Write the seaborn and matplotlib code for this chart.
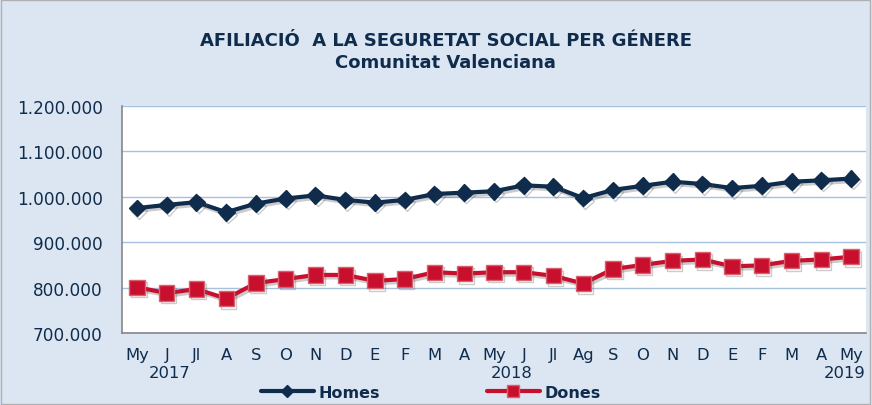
import numpy as np
import pandas as pd
import matplotlib.pyplot as plt
import matplotlib.patheffects as pe
from matplotlib.ticker import FuncFormatter, FixedLocator
import seaborn as sns

months = ['My', 'J', 'Jl', 'A', 'S', 'O', 'N', 'D', 'E', 'F', 'M', 'A', 'My',
          'J', 'Jl', 'Ag', 'S', 'O', 'N', 'D', 'E', 'F', 'M', 'A', 'My']
homes = [975000, 982000, 988000, 966000, 985000, 996000, 1003000, 993000, 987000,
         993000, 1006000, 1009000, 1012000, 1025000, 1022000, 997000, 1015000,
         1024000, 1033000, 1028000, 1019000, 1024000, 1033000, 1036000, 1040000]
dones = [801000, 788000, 797000, 776000, 810000, 819000, 828000, 828000, 815000,
         819000, 834000, 831000, 834000, 834000, 826000, 809000, 841000,
         850000, 859000, 862000, 847000, 849000, 859000, 862000, 868000]
years = ['2017', '2018', '2019']

df = pd.DataFrame({'pos': range(len(months)), 'Homes': homes, 'Dones': dones})
long = df.melt(id_vars='pos', var_name='serie', value_name='afiliats')

sns.set_style('white')
plt.rcParams['font.family'] = ['DejaVu Sans']

bg = '#dce6f2'
navy = '#0f2c4c'
red = '#c8102e'
fs = 11.8

fig = plt.figure(figsize=(8.72, 4.06), dpi=100, facecolor=bg)
ax = fig.add_axes([0.140, 0.177, 0.853, 0.560])

shadow = [pe.SimpleLineShadow(offset=(1.5, -1.8), alpha=0.3, shadow_color='#555555'), pe.Normal()]
sns.lineplot(data=long, x='pos', y='afiliats', hue='serie', style='serie',
             markers={'Homes': 'D', 'Dones': 's'}, dashes=False,
             palette={'Homes': navy, 'Dones': red}, linewidth=3, ax=ax,
             legend=False)
for line, ms, ec in zip(ax.lines, [8.5, 11], [navy, '#d9606f']):
    line.set_markersize(ms)
    line.set_markeredgecolor(ec)
    line.set_markeredgewidth(1)
    line.set_path_effects(shadow)

ax.set_ylim(700000, 1200000)
ax.set_xlim(-0.5, len(months) - 0.5)
ax.set_yticks(np.arange(700000, 1200001, 100000))
ax.yaxis.set_major_formatter(FuncFormatter(lambda v, p: f'{v:,.0f}'.replace(',', '.')))
ax.grid(axis='y', color='#a7c0de', linewidth=1)
ax.set_axisbelow(True)

ax.xaxis.set_major_locator(FixedLocator(np.arange(-0.5, len(months), 1)))
ax.xaxis.set_minor_locator(FixedLocator(np.arange(len(months))))
ax.set_xticklabels([])
ax.set_xticklabels(months, minor=True)
ax.tick_params(axis='x', which='minor', length=0, pad=10, labelsize=fs, labelcolor=navy)
ax.tick_params(axis='x', which='major', length=5, color='#868686', direction='out')
ax.tick_params(axis='y', length=5, color='#868686', direction='out', labelsize=fs + 0.4,
               labelcolor=navy, pad=9)
ax.set_xlabel('')
ax.set_ylabel('')

for s in ['top', 'right']:
    ax.spines[s].set_visible(False)
for s in ['left', 'bottom']:
    ax.spines[s].set_color('#868686')
    ax.spines[s].set_linewidth(1.2)

# year labels under the months
for xpos, yr, ha in [(1.1, years[0], 'center'), (12.6, years[1], 'center'), (24.5, years[2], 'right')]:
    ax.text(xpos, -0.14, yr, transform=ax.get_xaxis_transform(), ha=ha, va='top',
            fontsize=fs, color=navy)

fig.text(0.511, 0.900, 'AFILIACIÓ  A LA SEGURETAT SOCIAL PER GÉNERE',
         ha='center', va='center', fontsize=13, fontweight='bold', color=navy)
fig.text(0.511, 0.846, 'Comunitat Valenciana', ha='center', va='center',
         fontsize=13, fontweight='bold', color=navy)

handles = [plt.Line2D([], [], color=navy, lw=3, marker='D', ms=6),
           plt.Line2D([], [], color=red, lw=3, marker='s', ms=9, mec='#d9606f')]
fig.legend(handles, ['Homes', 'Dones'], loc='center', bbox_to_anchor=(0.494, 0.032),
           ncol=2, frameon=False, handlelength=3.3, columnspacing=6.7,
           handletextpad=0.3, prop={'weight': 'bold', 'size': 11.5}, labelcolor=navy)

fig.patches.append(plt.Rectangle((0.001, 0.002), 0.997, 0.995, transform=fig.transFigure,
                                 fill=False, edgecolor='#b0b0b0', linewidth=1))

fig.savefig('out.png', dpi=100, facecolor=bg)
